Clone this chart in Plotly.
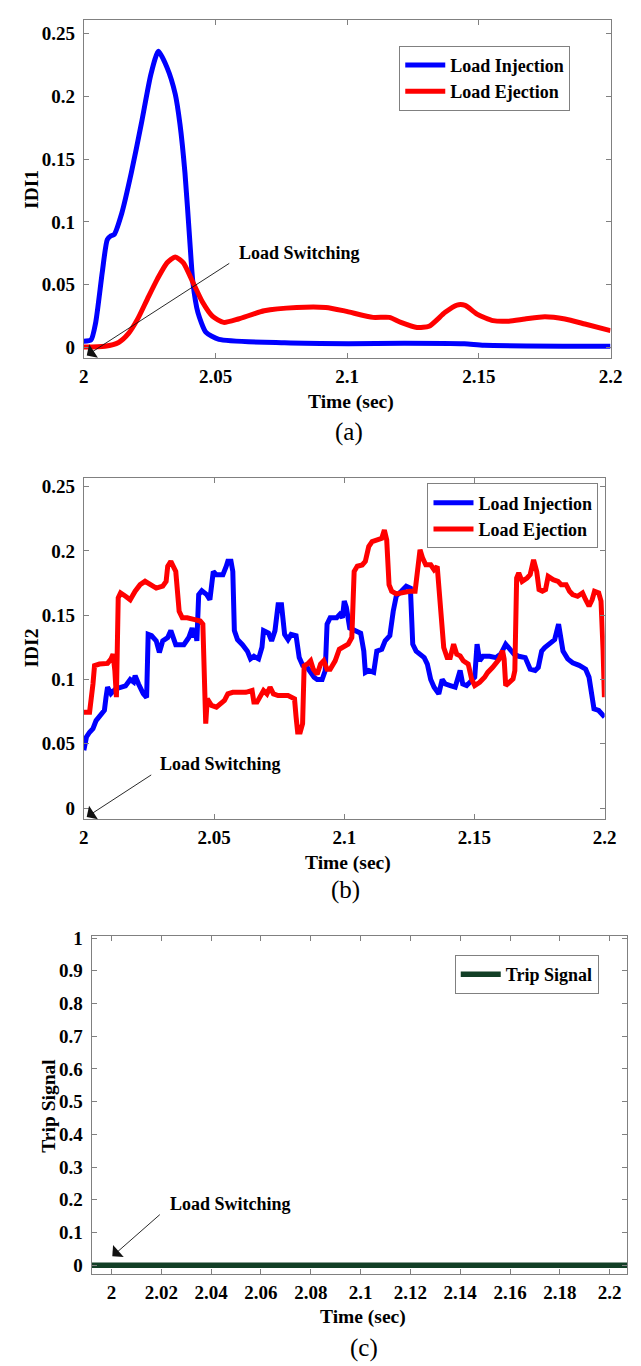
import plotly.graph_objects as go

# ---------------- data ----------------
# Panel (a): IDI1
a_inj_t = [2.0, 2.0027, 2.0045, 2.007, 2.0089, 2.0103, 2.0115, 2.0144, 2.018, 2.0218, 2.0255,
           2.0283, 2.0316, 2.0347, 2.0365, 2.0384, 2.0402, 2.0414, 2.0433, 2.0464, 2.0513,
           2.0762, 2.1005, 2.1217, 2.1445, 2.152, 2.2]
a_inj_v = [0.005, 0.006, 0.020, 0.060, 0.086, 0.089, 0.090, 0.107, 0.139, 0.178, 0.218,
           0.236, 0.223, 0.202, 0.178, 0.139, 0.086, 0.052, 0.028, 0.012, 0.0065,
           0.0037, 0.003, 0.0034, 0.003, 0.0018, 0.001]
a_ej_t = [2.0, 2.008, 2.0132, 2.0169, 2.0205, 2.0242, 2.0279, 2.0316, 2.0347, 2.0378, 2.0414,
          2.0451, 2.0488, 2.0531, 2.0587, 2.0685, 2.0808, 2.0919, 2.0993, 2.1098, 2.116,
          2.1204, 2.1265, 2.1311, 2.1372, 2.1417, 2.1448, 2.1493, 2.1554, 2.1614, 2.1675,
          2.1751, 2.1827, 2.1903, 2.2]
a_ej_v = [0.0003, 0.001, 0.004, 0.011, 0.023, 0.039, 0.0545, 0.0675, 0.0722, 0.0675, 0.052,
          0.036, 0.025, 0.020, 0.0227, 0.0293, 0.0319, 0.0319, 0.029, 0.024, 0.024,
          0.020, 0.016, 0.0169, 0.028, 0.0338, 0.0335, 0.0266, 0.0214, 0.021, 0.0227,
          0.0245, 0.0227, 0.0187, 0.0134]

# Panel (b): IDI2
b_inj_t = [2.0, 2.001, 2.0022, 2.0035, 2.0047, 2.0066, 2.0079, 2.0085, 2.0091, 2.0104, 2.0122,
           2.016, 2.0178, 2.0191, 2.0197, 2.021, 2.0228, 2.0241, 2.0247, 2.026, 2.0278, 2.029,
           2.0303, 2.0322, 2.0334, 2.0353, 2.0384, 2.0403, 2.0416, 2.0422, 2.0428, 2.0434,
           2.0441, 2.0453, 2.0472, 2.0484, 2.0497, 2.0509, 2.0534, 2.0547, 2.0553, 2.0565,
           2.0572, 2.0578, 2.059, 2.0609, 2.0628, 2.064, 2.0653, 2.0671, 2.0684, 2.069,
           2.0709, 2.0721, 2.0734, 2.0746, 2.0759, 2.0771, 2.0784, 2.0796, 2.0815, 2.0827,
           2.084, 2.0852, 2.0871, 2.0884, 2.0896, 2.0915, 2.0927, 2.0934, 2.0946, 2.0971,
           2.0983, 2.0993, 2.1, 2.1008, 2.1021, 2.1038, 2.1063, 2.1075, 2.1081, 2.1094,
           2.1113, 2.1125, 2.1144, 2.1157, 2.1175, 2.1188, 2.12, 2.1219, 2.1238, 2.1254,
           2.1263, 2.1276, 2.1294, 2.1307, 2.1319, 2.1332, 2.1345, 2.1363, 2.1376, 2.1388,
           2.1407, 2.1426, 2.1445, 2.1455, 2.147, 2.1489, 2.1501, 2.151, 2.152, 2.1533,
           2.1558, 2.1583, 2.1601, 2.162, 2.1633, 2.1652, 2.167, 2.1695, 2.1714, 2.1733,
           2.1745, 2.1758, 2.177, 2.1789, 2.1808, 2.1823, 2.184, 2.1858, 2.1877, 2.1902,
           2.1927, 2.194, 2.1952, 2.1959, 2.1977, 2.2]
b_inj_v = [0.045, 0.0553, 0.059, 0.0618, 0.068, 0.073, 0.076, 0.086, 0.094, 0.089, 0.0927,
           0.095, 0.100, 0.098, 0.103, 0.0965, 0.089, 0.086, 0.135, 0.134, 0.130, 0.121,
           0.130, 0.1326, 0.138, 0.127, 0.127, 0.1326, 0.140, 0.1326, 0.138, 0.130,
           0.166, 0.169, 0.166, 0.162, 0.184, 0.1815, 0.1815, 0.188, 0.192, 0.192,
           0.184, 0.138, 0.131, 0.127, 0.122, 0.116, 0.118, 0.116, 0.125, 0.138,
           0.136, 0.130, 0.138, 0.158, 0.158, 0.135, 0.131, 0.135, 0.134, 0.117,
           0.111, 0.111, 0.1055, 0.1017, 0.100, 0.100, 0.107, 0.143, 0.148, 0.148,
           0.1506, 0.148, 0.161, 0.156, 0.140, 0.138, 0.136, 0.122, 0.1055, 0.107,
           0.1055, 0.122, 0.1235, 0.130, 0.134, 0.153, 0.165, 0.1686, 0.1725, 0.171,
           0.1274, 0.122, 0.1197, 0.117, 0.112, 0.100, 0.094, 0.0888, 0.100, 0.0965,
           0.0952, 0.094, 0.107, 0.0965, 0.0952, 0.099, 0.1017, 0.1274, 0.1145, 0.118,
           0.118, 0.117, 0.1197, 0.1274, 0.1248, 0.1197, 0.118, 0.117, 0.108, 0.107,
           0.1094, 0.122, 0.1248, 0.1274, 0.131, 0.143, 0.122, 0.116, 0.113, 0.111,
           0.108, 0.1017, 0.0837, 0.0772, 0.0759, 0.0708]
b_ej_t = [2.0, 2.0022, 2.0035, 2.0041, 2.006, 2.0091, 2.0104, 2.0112, 2.0119, 2.0125, 2.0132,
          2.0141, 2.016, 2.0178, 2.0197, 2.0216, 2.0235, 2.0253, 2.0278, 2.0303, 2.0316,
          2.0322, 2.0334, 2.0353, 2.0366, 2.0378, 2.0397, 2.0422, 2.0447, 2.0457, 2.0463,
          2.0468, 2.0474, 2.049, 2.0509, 2.0528, 2.054, 2.0553, 2.0572, 2.0597, 2.0622,
          2.0646, 2.0653, 2.0665, 2.0678, 2.069, 2.0703, 2.0715, 2.0728, 2.0746, 2.0784,
          2.0809, 2.0815, 2.0821, 2.0831, 2.084, 2.0846, 2.0859, 2.0871, 2.0881, 2.0896,
          2.0909, 2.0921, 2.0934, 2.0946, 2.0965, 2.0981, 2.0996, 2.1015, 2.1029, 2.1038,
          2.105, 2.1069, 2.1081, 2.1094, 2.1107, 2.1132, 2.1144, 2.1154, 2.1163, 2.1172,
          2.1182, 2.12, 2.1226, 2.1251, 2.1272, 2.1282, 2.1291, 2.1301, 2.1313, 2.1332,
          2.1345, 2.1357, 2.137, 2.1382, 2.1395, 2.1407, 2.142, 2.1432, 2.1445, 2.1457,
          2.1476, 2.1489, 2.1501, 2.152, 2.1539, 2.1551, 2.157, 2.1583, 2.1595, 2.1608,
          2.1614, 2.162, 2.1633, 2.1648, 2.1655, 2.1662, 2.167, 2.1683, 2.1702, 2.1714,
          2.1727, 2.1739, 2.1748, 2.1761, 2.1773, 2.1783, 2.1802, 2.1821, 2.1833, 2.1852,
          2.1865, 2.1877, 2.1896, 2.1915, 2.1927, 2.194, 2.1952, 2.1961, 2.1977, 2.1986,
          2.1994, 2.1999]
b_ej_v = [0.0746, 0.0746, 0.0965, 0.1107, 0.112, 0.1125, 0.1158, 0.1197, 0.107, 0.0862, 0.1634,
          0.1673, 0.1647, 0.162, 0.1686, 0.1737, 0.1763, 0.1737, 0.171, 0.1725, 0.1763,
          0.188, 0.1918, 0.184, 0.153, 0.148, 0.148, 0.1467, 0.1454, 0.143, 0.0837,
          0.0656, 0.085, 0.0798, 0.0785, 0.081, 0.0837, 0.0888, 0.090, 0.090, 0.090,
          0.0914, 0.0824, 0.0824, 0.0862, 0.0914, 0.0888, 0.094, 0.0888, 0.0875, 0.0875,
          0.085, 0.0708, 0.0592, 0.0592, 0.0656, 0.1107, 0.112, 0.1145, 0.108, 0.104,
          0.112, 0.1145, 0.108, 0.108, 0.1145, 0.1235, 0.1248, 0.1274, 0.1326, 0.184,
          0.188, 0.189, 0.1918, 0.2033, 0.2072, 0.2085, 0.2098, 0.2162, 0.2085, 0.1737,
          0.1686, 0.1665, 0.168, 0.1686, 0.1686, 0.184, 0.2008, 0.1943, 0.1892, 0.1892,
          0.1853, 0.1879, 0.1557, 0.1248, 0.1171, 0.1171, 0.1274, 0.1197, 0.1184, 0.1145,
          0.112, 0.1004, 0.0952, 0.0978, 0.1017, 0.1055, 0.1094, 0.1133, 0.1158, 0.1223,
          0.1158, 0.0952, 0.0978, 0.1004, 0.1068, 0.1789, 0.1828, 0.1763, 0.1789, 0.1815,
          0.193, 0.184, 0.1699, 0.1686, 0.1699, 0.1802, 0.1776, 0.1763, 0.1737, 0.1737,
          0.1686, 0.166, 0.1647, 0.1673, 0.162, 0.157, 0.162, 0.1686, 0.1673, 0.1609,
          0.1223, 0.0862]

# Panel (c): trip signal
c_t = [1.992, 2.0, 2.05, 2.1, 2.15, 2.2, 2.207]
c_v = [0, 0, 0, 0, 0, 0, 0]

# tick labels
ab_xticks = [2.0, 2.05, 2.1, 2.15, 2.2]
ab_xlabels = ["2", "2.05", "2.1", "2.15", "2.2"]
ab_yticks = [0, 0.05, 0.1, 0.15, 0.2, 0.25]
ab_ylabels = ["0", "0.05", "0.1", "0.15", "0.2", "0.25"]
c_xticks = [2.0, 2.02, 2.04, 2.06, 2.08, 2.1, 2.12, 2.14, 2.16, 2.18, 2.2]
c_xlabels = ["2", "2.02", "2.04", "2.06", "2.08", "2.1", "2.12", "2.14", "2.16", "2.18", "2.2"]
c_yticks = [0, 0.1, 0.2, 0.3, 0.4, 0.5, 0.6, 0.7, 0.8, 0.9, 1]
c_ylabels = ["0", "0.1", "0.2", "0.3", "0.4", "0.5", "0.6", "0.7", "0.8", "0.9", "1"]

# ---------------- figure ----------------
W, H = 641, 1366
FONT = "Liberation Serif"
BLUE, RED, GREEN = "#0000ff", "#ff0000", "#123f26"
LW = 5

def px_x(p):
    return p / W

def px_y(p):
    return 1 - p / H

fig = go.Figure()
fig.add_trace(go.Scatter(x=a_inj_t, y=a_inj_v, mode="lines", name="Load Injection",
                         line=dict(color=BLUE, width=LW, shape="spline", smoothing=0.6),
                         xaxis="x", yaxis="y", legend="legend"))
fig.add_trace(go.Scatter(x=a_ej_t, y=a_ej_v, mode="lines", name="Load Ejection",
                         line=dict(color=RED, width=LW, shape="spline", smoothing=0.6),
                         xaxis="x", yaxis="y", legend="legend"))
fig.add_trace(go.Scatter(x=b_inj_t, y=b_inj_v, mode="lines", name="Load Injection",
                         line=dict(color=BLUE, width=LW),
                         xaxis="x2", yaxis="y2", legend="legend2"))
fig.add_trace(go.Scatter(x=b_ej_t, y=b_ej_v, mode="lines", name="Load Ejection",
                         line=dict(color=RED, width=LW),
                         xaxis="x2", yaxis="y2", legend="legend2"))
fig.add_trace(go.Scatter(x=c_t, y=c_v, mode="lines", name="Trip Signal",
                         line=dict(color=GREEN, width=5.5),
                         xaxis="x3", yaxis="y3", legend="legend3"))

tickfont = dict(family=FONT, size=19, color="black", weight="bold")
axis_common = dict(showline=True, linecolor="#808080", linewidth=1, mirror="allticks",
                   ticks="inside", ticklen=5, tickcolor="#808080", showgrid=False,
                   zeroline=False, tickfont=tickfont)

fig.update_layout(
    width=W, height=H, margin=dict(l=0, r=0, t=0, b=0),
    paper_bgcolor="white", plot_bgcolor="white",
    xaxis=dict(domain=[px_x(81), px_x(622)], range=[2.0, 2.2], anchor="y",
               tickvals=ab_xticks, ticktext=ab_xlabels, ticklabelstandoff=1, **axis_common),
    yaxis=dict(domain=[px_y(353), px_y(12)], range=[-0.0087, 0.261], anchor="x",
               tickvals=ab_yticks, ticktext=ab_ylabels, ticklabelstandoff=4, **axis_common),
    xaxis2=dict(domain=[px_x(81), px_x(616)], range=[2.0, 2.2], anchor="y2",
                tickvals=ab_xticks, ticktext=ab_xlabels, ticklabelstandoff=1, **axis_common),
    yaxis2=dict(domain=[px_y(817), px_y(473)], range=[-0.0085, 0.257], anchor="x2",
                tickvals=ab_yticks, ticktext=ab_ylabels, ticklabelstandoff=4, **axis_common),
    xaxis3=dict(domain=[px_x(89), px_x(639)], range=[1.992, 2.207], anchor="y3",
                tickvals=c_xticks, ticktext=c_xlabels, ticklabelstandoff=2, **axis_common),
    yaxis3=dict(domain=[px_y(1275), px_y(935)], range=[-0.026, 1.006], anchor="x3",
                tickvals=c_yticks, ticktext=c_ylabels, ticklabelstandoff=4, **axis_common),
    showlegend=True,
)

legend_common = dict(xanchor="left", yanchor="top", bgcolor="white",
                     bordercolor="#808080", borderwidth=1,
                     font=dict(family=FONT, size=18, color="black", weight="bold"),
                     tracegroupgap=0, itemwidth=40)
fig.update_layout(
    legend=dict(x=px_x(405), y=px_y(38), **legend_common),
    legend2=dict(x=px_x(434), y=px_y(479), **legend_common),
    legend3=dict(x=px_x(462), y=px_y(954), **legend_common),
)

bold = dict(family=FONT, size=18, color="black", weight="bold")
title_font = dict(family=FONT, size=19.5, color="black", weight="bold")
cap = dict(family=FONT, size=25, color="black")

def paper_text(text, x, y, font, angle=0):
    fig.add_annotation(text=text, xref="paper", yref="paper", x=px_x(x), y=px_y(y),
                       xanchor="center", yanchor="middle", showarrow=False,
                       font=font, textangle=angle)

# axis titles and captions
paper_text("Time (sec)", 355, 397, title_font)
paper_text("IDI1", 27, 183, title_font, -90)
paper_text("(a)", 353, 427, cap)
paper_text("Time (sec)", 352, 861, title_font)
paper_text("IDI2", 27, 645, title_font, -90)
paper_text("(b)", 350, 889, cap)
paper_text("Time (sec)", 368, 1319, title_font)
paper_text("Trip Signal", 45, 1106, title_font, -90)
paper_text("(c)", 369, 1350, cap)

# Load switching arrows + labels
def switching(xr, yr, hx, hy, axp, ayp, tx, ty):
    fig.add_annotation(xref=xr, yref=yr, x=hx, y=hy, ax=axp, ay=ayp, text="",
                       showarrow=True, arrowhead=1, arrowsize=3.0, arrowwidth=0.9,
                       arrowcolor="#111111")
    fig.add_annotation(xref=xr, yref=yr, x=tx, y=ty, text="Load Switching",
                       showarrow=False, xanchor="left", yanchor="middle", font=bold)

switching("x", "y", 2.0011, -0.0063, 144, -93, 2.058, 0.0752)
switching("x2", "y2", 2.0011, -0.0069, 66, -43, 2.0284, 0.034)
switching("x3", "y3", 2.0003, 0.027, 49, -43, 2.0227, 0.188)

fig.write_html("out.html")
